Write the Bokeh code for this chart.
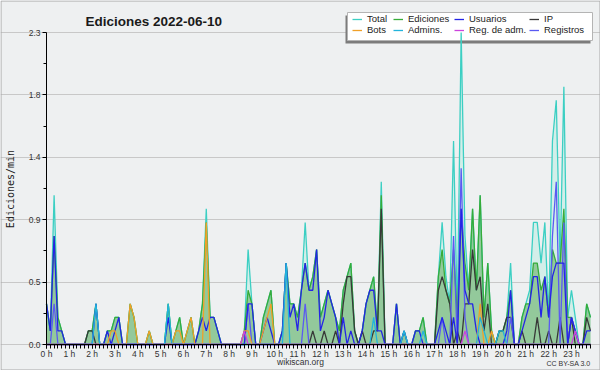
import math
from bokeh.plotting import figure
from bokeh.models import (Range1d, FixedTicker, Label, Legend, LegendItem,
                          ColumnDataSource)
from bokeh.embed import file_html
from bokeh.resources import INLINE

# ---------------- data (10-minute slots, edits per minute) ----------------
slots = list(range(144))
hour_ticks = list(range(0, 144, 6))
hour_labels = [f"{h} h" for h in range(24)]

y_ticks = [0.0, 0.46, 0.92, 1.38, 1.84, 2.3]
y_labels = ["0.0", "0.5", "0.9", "1.4", "1.8", "2.3"]
y_minor = [0.23, 0.69, 1.15, 1.61, 2.07]

total = [
    0.3, 0.1, 1.1, 0.2, 0.1, 0.0,
    0.0, 0.0, 0.0, 0.0, 0.0, 0.1,
    0.1, 0.3, 0.0, 0.0, 0.1, 0.1,
    0.2, 0.2, 0.0, 0.0, 0.3, 0.2,
    0.0, 0.0, 0.0, 0.1, 0.0, 0.0,
    0.0, 0.0, 0.3, 0.0, 0.1, 0.2,
    0.0, 0.1, 0.2, 0.0, 0.1, 0.3,
    1.0, 0.2, 0.2, 0.1, 0.0, 0.0,
    0.0, 0.0, 0.0, 0.0, 0.1, 0.7,
    0.3, 0.0, 0.0, 0.2, 0.3, 0.4,
    0.0, 0.0, 0.1, 0.6, 0.3, 0.3,
    0.2, 0.4, 0.9, 0.4, 0.5, 0.7,
    0.2, 0.3, 0.4, 0.3, 0.2, 0.1,
    0.4, 0.5, 0.6, 0.1, 0.0, 0.1,
    0.3, 0.4, 0.5, 0.1, 1.2, 0.0,
    0.0, 0.0, 0.3, 0.0, 0.1, 0.0,
    0.0, 0.1, 0.1, 0.2, 0.0, 0.0,
    0.0, 0.5, 0.9, 0.5, 0.3, 1.5,
    0.2, 2.3, 0.8, 0.4, 1.0, 0.4,
    1.1, 0.2, 0.6, 0.1, 0.0, 0.1,
    0.1, 0.2, 0.6, 0.0, 0.0, 0.2,
    0.3, 0.4, 0.9, 0.9, 0.6, 0.9,
    0.2, 1.5, 1.8, 0.6, 1.9, 0.2,
    0.4, 0.2, 0.0, 0.0, 0.3, 0.2,
]
edits = [
    0.3, 0.1, 0.8, 0.2, 0.1, 0.0,
    0.0, 0.0, 0.0, 0.0, 0.0, 0.1,
    0.1, 0.3, 0.0, 0.0, 0.1, 0.1,
    0.2, 0.2, 0.0, 0.0, 0.3, 0.2,
    0.0, 0.0, 0.0, 0.1, 0.0, 0.0,
    0.0, 0.0, 0.3, 0.0, 0.1, 0.2,
    0.0, 0.1, 0.2, 0.0, 0.1, 0.3,
    0.9, 0.2, 0.2, 0.1, 0.0, 0.0,
    0.0, 0.0, 0.0, 0.0, 0.1, 0.4,
    0.3, 0.0, 0.0, 0.2, 0.3, 0.4,
    0.0, 0.0, 0.1, 0.6, 0.3, 0.3,
    0.2, 0.4, 0.6, 0.4, 0.5, 0.7,
    0.2, 0.3, 0.4, 0.3, 0.2, 0.1,
    0.4, 0.5, 0.6, 0.1, 0.0, 0.1,
    0.3, 0.4, 0.5, 0.1, 1.1, 0.0,
    0.0, 0.0, 0.3, 0.0, 0.1, 0.0,
    0.0, 0.1, 0.1, 0.2, 0.0, 0.0,
    0.0, 0.5, 0.7, 0.4, 0.3, 0.7,
    0.2, 1.0, 0.6, 0.4, 1.0, 0.4,
    1.1, 0.2, 0.6, 0.1, 0.0, 0.1,
    0.1, 0.2, 0.4, 0.0, 0.0, 0.2,
    0.3, 0.3, 0.6, 0.6, 0.4, 0.5,
    0.2, 0.7, 0.6, 0.6, 1.0, 0.2,
    0.2, 0.1, 0.0, 0.0, 0.3, 0.2,
]
users = [
    0.3, 0.1, 0.8, 0.1, 0.1, 0.0,
    0.0, 0.0, 0.0, 0.0, 0.0, 0.0,
    0.0, 0.3, 0.0, 0.0, 0.1, 0.0,
    0.1, 0.2, 0.0, 0.0, 0.0, 0.0,
    0.0, 0.0, 0.0, 0.0, 0.0, 0.0,
    0.0, 0.0, 0.2, 0.0, 0.0, 0.0,
    0.0, 0.0, 0.0, 0.0, 0.1, 0.2,
    0.1, 0.2, 0.2, 0.1, 0.0, 0.0,
    0.0, 0.0, 0.0, 0.0, 0.0, 0.3,
    0.3, 0.0, 0.0, 0.1, 0.2, 0.1,
    0.0, 0.0, 0.1, 0.6, 0.2, 0.3,
    0.1, 0.4, 0.6, 0.4, 0.4, 0.7,
    0.1, 0.2, 0.4, 0.3, 0.2, 0.0,
    0.2, 0.0, 0.1, 0.0, 0.0, 0.1,
    0.3, 0.4, 0.4, 0.1, 0.1, 0.0,
    0.0, 0.0, 0.3, 0.0, 0.1, 0.0,
    0.0, 0.1, 0.1, 0.0, 0.0, 0.0,
    0.0, 0.1, 0.2, 0.1, 0.0, 0.2,
    0.0, 1.0, 0.4, 0.3, 0.3, 0.1,
    0.0, 0.0, 0.0, 0.0, 0.0, 0.0,
    0.0, 0.1, 0.4, 0.0, 0.0, 0.1,
    0.2, 0.3, 0.5, 0.5, 0.2, 0.5,
    0.2, 0.5, 0.6, 0.6, 0.6, 0.0,
    0.2, 0.1, 0.0, 0.0, 0.1, 0.1,
]
ip = [
    0.0, 0.0, 0.0, 0.0, 0.0, 0.0,
    0.0, 0.0, 0.0, 0.0, 0.0, 0.1,
    0.1, 0.0, 0.0, 0.0, 0.0, 0.0,
    0.0, 0.0, 0.0, 0.0, 0.0, 0.0,
    0.0, 0.0, 0.0, 0.0, 0.0, 0.0,
    0.0, 0.0, 0.0, 0.0, 0.0, 0.0,
    0.0, 0.0, 0.0, 0.0, 0.0, 0.0,
    0.0, 0.0, 0.0, 0.0, 0.0, 0.0,
    0.0, 0.0, 0.0, 0.0, 0.0, 0.0,
    0.0, 0.0, 0.0, 0.0, 0.0, 0.0,
    0.0, 0.0, 0.0, 0.0, 0.0, 0.0,
    0.0, 0.0, 0.0, 0.0, 0.1, 0.0,
    0.0, 0.1, 0.0, 0.0, 0.1, 0.0,
    0.3, 0.5, 0.5, 0.1, 0.0, 0.1,
    0.0, 0.0, 0.1, 0.1, 1.0, 0.0,
    0.0, 0.0, 0.0, 0.0, 0.0, 0.0,
    0.0, 0.0, 0.0, 0.0, 0.0, 0.0,
    0.0, 0.4, 0.5, 0.4, 0.3, 0.0,
    0.1, 0.0, 0.3, 0.3, 0.7, 0.4,
    0.5, 0.1, 0.3, 0.0, 0.0, 0.1,
    0.1, 0.2, 0.2, 0.0, 0.0, 0.1,
    0.0, 0.0, 0.0, 0.2, 0.0, 0.0,
    0.1, 0.0, 0.0, 0.2, 0.0, 0.0,
    0.2, 0.0, 0.0, 0.0, 0.2, 0.1,
]
bots = [
    0.0, 0.0, 0.0, 0.0, 0.0, 0.0,
    0.0, 0.0, 0.0, 0.0, 0.0, 0.0,
    0.0, 0.0, 0.0, 0.0, 0.0, 0.1,
    0.1, 0.0, 0.0, 0.0, 0.3, 0.2,
    0.0, 0.0, 0.0, 0.1, 0.0, 0.0,
    0.0, 0.0, 0.0, 0.0, 0.1, 0.1,
    0.0, 0.1, 0.2, 0.0, 0.0, 0.0,
    0.9, 0.0, 0.0, 0.0, 0.0, 0.0,
    0.0, 0.0, 0.0, 0.0, 0.1, 0.1,
    0.0, 0.0, 0.0, 0.1, 0.2, 0.3,
    0.0, 0.0, 0.0, 0.0, 0.0, 0.0,
    0.0, 0.0, 0.0, 0.0, 0.0, 0.0,
    0.0, 0.0, 0.0, 0.0, 0.0, 0.0,
    0.0, 0.0, 0.0, 0.0, 0.0, 0.0,
    0.0, 0.0, 0.0, 0.0, 0.0, 0.0,
    0.0, 0.0, 0.0, 0.0, 0.0, 0.0,
    0.0, 0.0, 0.0, 0.0, 0.0, 0.0,
    0.0, 0.0, 0.0, 0.0, 0.0, 0.0,
    0.0, 0.0, 0.0, 0.0, 0.0, 0.0,
    0.3, 0.0, 0.0, 0.1, 0.0, 0.0,
    0.0, 0.0, 0.0, 0.0, 0.0, 0.0,
    0.0, 0.0, 0.0, 0.0, 0.0, 0.0,
    0.0, 0.0, 0.0, 0.0, 0.0, 0.0,
    0.0, 0.0, 0.0, 0.0, 0.0, 0.0,
]
admins = [
    0.0, 0.0, 0.0, 0.0, 0.0, 0.0,
    0.0, 0.0, 0.0, 0.0, 0.0, 0.0,
    0.0, 0.3, 0.0, 0.0, 0.0, 0.0,
    0.0, 0.0, 0.0, 0.0, 0.0, 0.0,
    0.0, 0.0, 0.0, 0.0, 0.0, 0.0,
    0.0, 0.0, 0.3, 0.0, 0.0, 0.0,
    0.0, 0.0, 0.0, 0.0, 0.0, 0.0,
    0.0, 0.0, 0.0, 0.0, 0.0, 0.0,
    0.0, 0.0, 0.0, 0.0, 0.0, 0.0,
    0.0, 0.0, 0.0, 0.0, 0.0, 0.0,
    0.0, 0.0, 0.0, 0.6, 0.0, 0.0,
    0.0, 0.0, 0.0, 0.0, 0.0, 0.0,
    0.0, 0.0, 0.0, 0.0, 0.0, 0.0,
    0.0, 0.0, 0.0, 0.0, 0.0, 0.0,
    0.0, 0.0, 0.2, 0.0, 0.0, 0.0,
    0.0, 0.0, 0.0, 0.0, 0.1, 0.0,
    0.0, 0.0, 0.0, 0.1, 0.0, 0.0,
    0.0, 0.0, 0.0, 0.0, 0.0, 0.0,
    0.0, 0.0, 0.0, 0.0, 0.0, 0.0,
    0.2, 0.1, 0.0, 0.0, 0.0, 0.1,
    0.1, 0.0, 0.0, 0.0, 0.0, 0.0,
    0.0, 0.0, 0.0, 0.0, 0.0, 0.0,
    0.0, 0.0, 0.0, 0.0, 0.0, 0.0,
    0.0, 0.0, 0.0, 0.0, 0.0, 0.0,
]
reg_admins = [0.0] * 144
for k in (52, 110, 139):
    reg_admins[k] = 0.1
registros = [
    0.0, 0.0, 0.3, 0.0, 0.0, 0.0,
    0.0, 0.0, 0.0, 0.0, 0.0, 0.0,
    0.0, 0.0, 0.0, 0.0, 0.0, 0.0,
    0.0, 0.0, 0.0, 0.0, 0.0, 0.0,
    0.0, 0.0, 0.0, 0.0, 0.0, 0.0,
    0.0, 0.0, 0.0, 0.0, 0.0, 0.0,
    0.0, 0.0, 0.0, 0.0, 0.0, 0.0,
    0.0, 0.0, 0.0, 0.0, 0.0, 0.0,
    0.0, 0.0, 0.0, 0.0, 0.0, 0.3,
    0.0, 0.0, 0.0, 0.0, 0.0, 0.0,
    0.0, 0.0, 0.0, 0.0, 0.0, 0.0,
    0.0, 0.0, 0.3, 0.0, 0.0, 0.0,
    0.0, 0.0, 0.0, 0.0, 0.0, 0.0,
    0.0, 0.0, 0.0, 0.0, 0.0, 0.0,
    0.0, 0.0, 0.0, 0.0, 0.0, 0.0,
    0.0, 0.0, 0.0, 0.0, 0.0, 0.0,
    0.0, 0.0, 0.0, 0.0, 0.0, 0.0,
    0.0, 0.0, 0.2, 0.0, 0.0, 0.8,
    0.0, 1.3, 0.2, 0.0, 0.0, 0.0,
    0.0, 0.0, 0.0, 0.0, 0.0, 0.0,
    0.0, 0.0, 0.2, 0.0, 0.0, 0.0,
    0.0, 0.0, 0.0, 0.0, 0.0, 0.0,
    0.0, 0.8, 1.2, 0.0, 0.9, 0.0,
    0.2, 0.1, 0.0, 0.0, 0.0, 0.0,
]

# ---------------- layout: the frame covers the whole picture ----------------
W, H = 600, 370
AX_L, AX_R, AX_B, AX_T = 46, 590, 344, 32   # where the axes sit on the canvas
X_MAX, Y_MAX = 143, 2.3


def X(px):
    return (px - AX_L) * X_MAX / (AX_R - AX_L)


def Y(py):
    return (AX_B - py) * Y_MAX / (AX_B - AX_T)


BG = "#eef0f1"
p = figure(width=W, height=H, output_backend="svg", toolbar_location=None,
           x_range=Range1d(X(0), X(W)), y_range=Range1d(Y(H), Y(0)),
           min_border=0, min_border_left=0, min_border_right=0,
           min_border_top=0, min_border_bottom=0)
p.background_fill_color = BG
p.border_fill_color = BG
p.outline_line_color = None

# axes pinned at zero so that they take no panel space
xa = p.xaxis[0]
xa.fixed_location = 0
xa.bounds = (0, X_MAX)
xa.ticker = FixedTicker(ticks=hour_ticks, minor_ticks=slots)
xa.major_label_overrides = dict(zip(hour_ticks, hour_labels))
xa.major_tick_in = 0
xa.major_tick_out = 4
xa.minor_tick_in = 0
xa.minor_tick_out = 4
xa.major_label_standoff = 0
xa.major_label_text_font = "Liberation Sans"
xa.major_label_text_font_size = "8.5px"
xa.major_label_text_color = "#333333"
xa.axis_line_color = "black"
xa.major_tick_line_color = "black"
xa.minor_tick_line_color = "black"

ya = p.yaxis[0]
ya.fixed_location = 0
ya.bounds = (0, Y_MAX)
ya.ticker = FixedTicker(ticks=y_ticks, minor_ticks=y_minor)
ya.major_label_overrides = dict(zip(y_ticks, y_labels))
ya.major_tick_in = 0
ya.major_tick_out = 4
ya.minor_tick_in = 0
ya.minor_tick_out = 3
ya.major_label_standoff = 2
ya.major_label_text_font = "Liberation Sans"
ya.major_label_text_font_size = "8.5px"
ya.major_label_text_color = "#333333"
ya.axis_line_color = "black"
ya.major_tick_line_color = "black"
ya.minor_tick_line_color = "black"

p.xgrid.visible = False
p.ygrid.ticker = FixedTicker(ticks=y_ticks)
p.ygrid.bounds = (0, X_MAX)
p.ygrid.grid_line_color = "#c8c8c8"
p.ygrid.grid_line_width = 1

# legend box with its shadow (drawn first, under the data)
p.quad(left=X(345), right=X(590), top=Y(15), bottom=Y(43),
       fill_color="#7c7c7c", line_color=None)
p.quad(left=X(347), right=X(592), top=Y(12), bottom=Y(40),
       fill_color="white", line_color="#b4b4b4", line_width=1)

# data
src = ColumnDataSource(dict(slot=slots, total=total, edits=edits, users=users,
                            ip=ip, bots=bots, admins=admins, reg_admins=reg_admins,
                            registros=registros))
p.varea(x="slot", y1=0, y2="total", source=src, fill_color="#d3eee9", fill_alpha=1)
p.varea(x="slot", y1=0, y2="edits", source=src, fill_color="#93c99b", fill_alpha=1)

LW = 1.3
r_total = p.line("slot", "total", source=src, line_color="#3ccfc3", line_width=LW)
r_edits = p.line("slot", "edits", source=src, line_color="#36ac3a", line_width=LW)
r_ip = p.line("slot", "ip", source=src, line_color="#383838", line_width=LW)
r_reg = p.line("slot", "registros", source=src, line_color="#5a5af2", line_width=LW)
r_users = p.line("slot", "users", source=src, line_color="#2424e6", line_width=LW)
r_bots = p.line("slot", "bots", source=src, line_color="#f0a028", line_width=LW)
r_admins = p.line("slot", "admins", source=src, line_color="#22b4dc", line_width=LW)
r_regadm = p.line("slot", "reg_admins", source=src, line_color="#cc44dd", line_width=LW)

# legend: four columns of two rows
columns = [
    (352, [("Total", r_total), ("Bots", r_bots)]),
    (393, [("Ediciones", r_edits), ("Admins.", r_admins)]),
    (454, [("Usuarios", r_users), ("Reg. de adm.", r_regadm)]),
    (529, [("IP", r_ip), ("Registros", r_reg)]),
]
for x0, items in columns:
    leg = Legend(items=[LegendItem(label=t, renderers=[r]) for t, r in items],
                 location=(x0, H - 35), orientation="vertical",
                 padding=0, margin=0, spacing=0, glyph_width=10, glyph_height=10,
                 label_height=10, label_standoff=5,
                 label_text_font="Liberation Sans", label_text_font_size="9.5px",
                 label_text_color="#222222",
                 border_line_alpha=0, background_fill_alpha=0)
    p.add_layout(leg)

# texts
p.add_layout(Label(x=X(85), y=Y(21), text="Ediciones  2022-06-10",
                   text_font="Liberation Sans", text_font_style="bold",
                   text_font_size="13.5px", text_color="#1a1a1a",
                   text_baseline="alphabetic"))
p.add_layout(Label(x=X(9.5), y=Y(188.5), text="Ediciones/min", angle=math.pi / 2,
                   text_font="DejaVu Sans Mono", text_font_size="10px",
                   text_color="#222222", text_align="center", text_baseline="middle"))
p.add_layout(Label(x=X(300), y=Y(361.5), text="wikiscan.org",
                   text_font="Liberation Sans", text_font_size="8.5px",
                   text_color="#333333", text_align="center", text_baseline="middle"))
p.add_layout(Label(x=X(590), y=Y(362.5), text="CC BY-SA 3.0",
                   text_font="Liberation Sans", text_font_size="7px",
                   text_color="#333333", text_align="right", text_baseline="middle"))

# outer border of the picture
p.quad(left=X(0.5), right=X(599.5), top=Y(0.5), bottom=Y(369.5),
       fill_color=None, line_color="#a8a8a8", line_width=1)

open("out.html", "w").write(file_html(p, INLINE))
